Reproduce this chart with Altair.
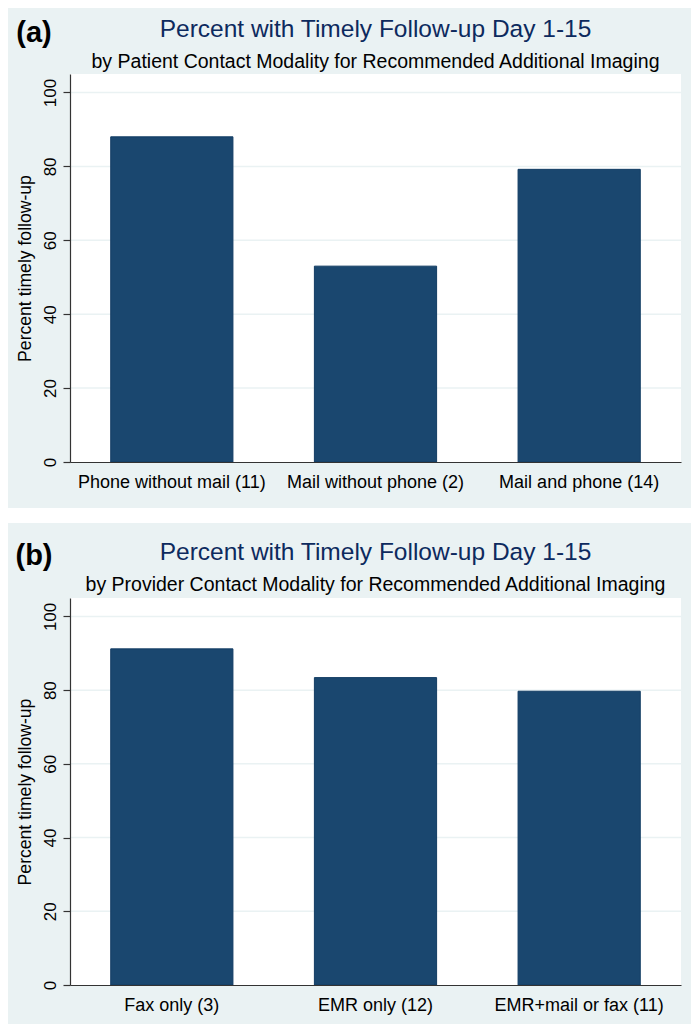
import altair as alt
import pandas as pd

# ---- data ----
cats_a = ["Phone without mail (11)", "Mail without phone (2)", "Mail and phone (14)"]
vals_a = [88.0, 53.0, 79.2]
cats_b = ["Fax only (3)", "EMR only (12)", "EMR+mail or fax (11)"]
vals_b = [91.2, 83.4, 79.7]
y_ticks = [0, 20, 40, 60, 80, 100]
title_text = "Percent with Timely Follow-up Day 1-15"
sub_a = "by Patient Contact Modality for Recommended Additional Imaging"
sub_b = "by Provider Contact Modality for Recommended Additional Imaging"
y_title = "Percent timely follow-up"
tag_a = "(a)"
tag_b = "(b)"

# ---- style ----
W = 611
FONT = "Liberation Sans"
BG = "#eaf2f3"
NAVY = "#1a476f"
TITLE_COLOR = "#0d2a5e"
AXIS_COLOR = "#333333"


def panel(cats, vals, sub, tag, H, bg_top, bg_bottom, tag_y, title_dy):
    df = pd.DataFrame({"cat": cats, "val": vals})
    one = pd.DataFrame({"k": [0]})
    grid_df = pd.DataFrame({"val": y_ticks[1:]})
    yscale = alt.Scale(domain=[0, 105], nice=False, zero=True)
    xscale = alt.Scale(domain=cats, paddingInner=0.4, paddingOuter=0.2)
    yaxis = alt.Axis(
        values=y_ticks, title=y_title, grid=False, zindex=1,
        labelAngle=270, labelAlign="center", labelBaseline="bottom",
        labelFont=FONT, labelFontSize=17, labelColor="black", labelPadding=4,
        tickSize=7, tickColor=AXIS_COLOR, tickWidth=1.2,
        domainColor=AXIS_COLOR, domainWidth=1.2,
        titleFont=FONT, titleFontSize=17.6, titleFontWeight="normal",
        titleColor="black", titlePadding=7,
    )
    xaxis = alt.Axis(
        title=None, labelAngle=0, ticks=False, tickSize=0, zindex=1,
        labelFont=FONT, labelFontSize=18, labelColor="black", labelPadding=11,
        labelLimit=400,
        domainColor=AXIS_COLOR, domainWidth=1.2,
    )

    bg = alt.Chart(one).mark_rect(color=BG).encode(
        x=alt.value(-62), x2=alt.value(W + 10),
        y=alt.value(bg_top), y2=alt.value(bg_bottom))
    plotbg = alt.Chart(one).mark_rect(color="white").encode(
        x=alt.value(0), x2=alt.value(W), y=alt.value(0), y2=alt.value(H))
    grid = alt.Chart(grid_df).mark_rule(color=BG, strokeWidth=1.5).encode(
        y=alt.Y("val:Q", scale=yscale, axis=yaxis),
        x=alt.value(0), x2=alt.value(W))
    bars = alt.Chart(df).mark_bar(color=NAVY, stroke="#123c63", strokeWidth=1).encode(
        x=alt.X("cat:N", scale=xscale, sort=cats, axis=xaxis),
        y=alt.Y("val:Q", scale=yscale, axis=yaxis))
    tagm = alt.Chart(one).mark_text(
        text=tag, font=FONT, fontSize=29, fontWeight="bold",
        align="center", baseline="middle", color="black").encode(
        x=alt.value(-36), y=alt.value(tag_y))

    return alt.layer(bg, plotbg, grid, bars, tagm).properties(
        width=W, height=H,
        title=alt.TitleParams(
            text=title_text, subtitle=sub,
            font=FONT, fontSize=24.5, fontWeight="normal", color=TITLE_COLOR,
            subtitleFont=FONT, subtitleFontSize=19.5, subtitleColor="black",
            anchor="middle", frame="group", offset=2, subtitlePadding=10,
            dy=title_dy, zindex=1,
        ),
    )


pa = panel(cats_a, vals_a, sub_a, tag_a, 388, -66, 434, -41, 66)
pb = panel(cats_b, vals_b, sub_b, tag_b, 387, -75, 426, -42, 74)

chart = alt.vconcat(pa, pb, spacing=15).properties(
    padding=0, background="white"
).configure_view(strokeWidth=0)

chart.save("out.html", embed_options={"renderer": "svg", "actions": False})
